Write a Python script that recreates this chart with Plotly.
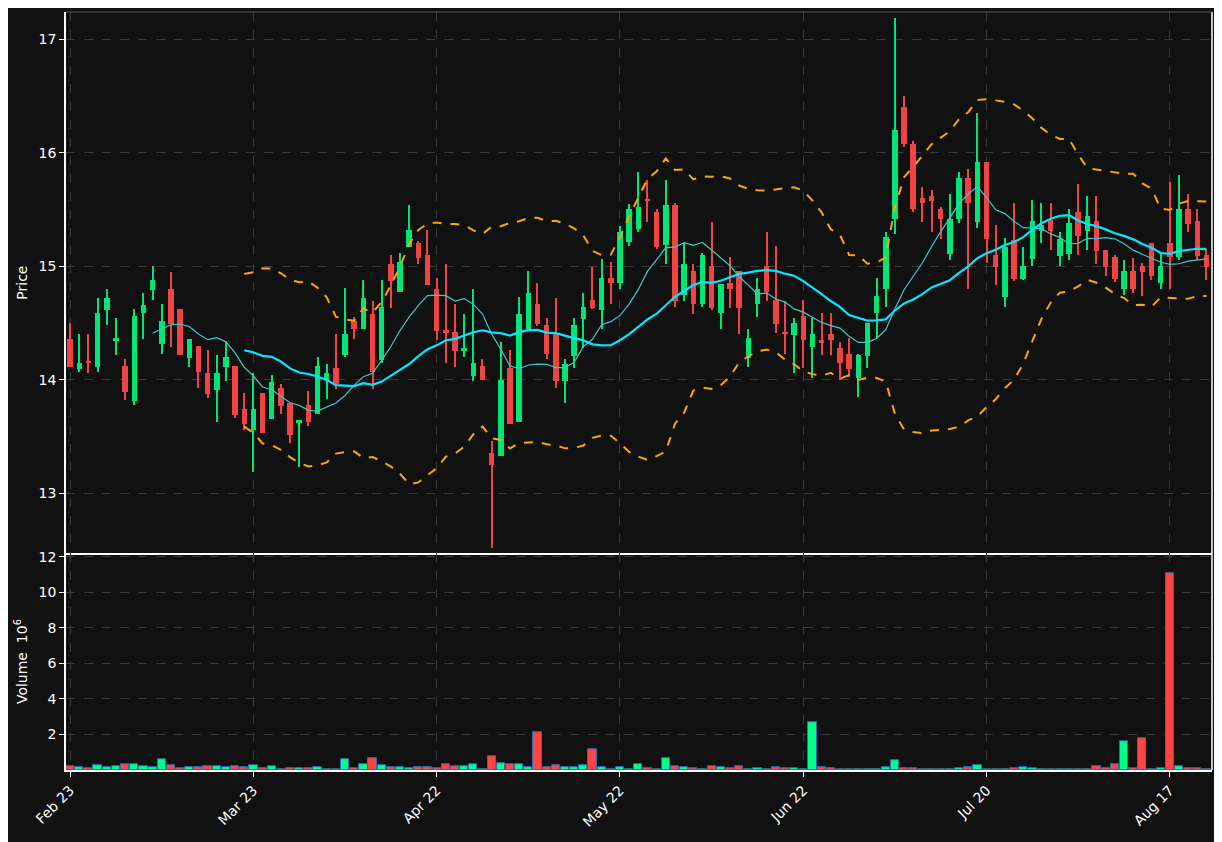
import numpy as np
import pandas as pd
import plotly.graph_objects as go
from plotly.subplots import make_subplots

opens = [14.36,14.09,14.16,14.11,14.61,14.34,14.12,13.81,14.59,14.79,
         14.31,14.80,14.62,14.19,14.30,14.06,13.91,14.11,14.12,13.74,
         13.56,13.88,13.65,13.93,13.79,13.62,13.78,13.70,14.00,14.10,
         14.22,14.52,14.45,14.58,14.17,15.02,14.77,15.17,15.20,15.10,
         14.80,14.44,14.42,14.25,14.03,14.12,13.35,13.33,14.10,13.63,
         14.45,14.67,14.48,14.41,13.99,14.21,14.53,14.70,14.61,14.90,
         14.85,15.21,15.33,15.59,15.48,15.19,15.54,14.75,14.96,14.67,
         15.00,14.59,14.85,14.96,14.19,14.67,15.00,14.70,14.42,14.39,
         14.56,14.29,14.34,14.40,14.28,14.23,14.01,14.21,14.59,14.80,
         15.42,16.40,16.08,15.60,15.62,15.50,15.11,15.42,15.78,15.39,
         15.92,15.10,14.73,15.23,14.89,15.06,15.31,15.41,15.09,15.11,
         15.48,15.31,15.40,15.14,15.08,14.80,14.96,15.00,15.20,14.85,
         15.20,15.08,15.50,15.40,15.10]
highs = [14.50,14.40,14.40,14.72,14.80,14.54,14.18,14.62,14.76,15.00,
         14.67,14.95,14.62,14.36,14.30,14.26,14.22,14.34,14.12,13.88,
         14.06,13.88,14.04,13.96,13.79,13.64,13.90,14.20,14.14,14.40,
         14.81,14.55,14.88,14.69,14.88,15.10,15.12,15.54,15.22,15.32,
         14.90,15.02,14.67,14.58,14.80,14.18,13.46,14.33,14.26,14.73,
         14.96,14.85,14.54,14.72,14.18,14.54,14.76,14.99,15.06,15.04,
         15.35,15.55,15.83,15.76,15.50,15.76,15.56,15.20,15.02,15.12,
         15.39,14.84,15.08,14.96,14.45,14.90,15.30,15.18,14.69,14.54,
         14.70,14.54,14.59,14.59,14.33,14.37,14.23,14.50,14.90,15.30,
         17.19,16.50,16.10,15.70,15.67,15.52,15.64,15.83,15.86,16.35,
         15.92,15.36,15.25,15.56,15.17,15.58,15.56,15.56,15.30,15.50,
         15.72,15.62,15.62,15.14,15.10,15.05,15.07,15.03,15.20,15.12,
         15.74,15.80,15.64,15.50,15.15]
lows = [14.11,14.07,14.06,14.07,14.48,14.22,13.82,13.78,14.36,14.70,
        14.23,14.29,14.22,14.11,13.93,13.84,13.63,13.99,13.66,13.56,
        13.19,13.53,13.65,13.70,13.44,13.23,13.59,13.70,13.83,13.92,
        14.20,14.36,14.45,13.92,14.15,14.63,14.77,15.17,15.02,14.83,
        14.35,14.15,14.11,14.20,13.99,14.00,12.52,13.33,13.61,13.63,
        14.45,14.47,14.18,13.93,13.79,14.10,14.28,14.62,14.45,14.67,
        14.80,15.18,15.30,15.39,15.15,15.02,14.64,14.69,14.58,14.64,
        14.61,14.45,14.63,14.40,14.11,14.55,14.69,14.41,14.23,14.06,
        14.10,14.01,14.22,14.22,14.00,14.02,13.85,14.10,14.37,14.64,
        15.28,16.05,15.48,15.39,15.30,15.24,15.05,15.38,14.80,15.34,
        15.03,14.83,14.64,14.87,14.88,15.00,15.20,15.14,15.00,15.05,
        15.10,15.14,15.02,14.91,14.86,14.75,14.76,14.74,14.88,14.80,
        14.80,15.05,15.30,15.05,14.88]
closes = [14.11,14.15,14.15,14.59,14.72,14.37,13.89,14.56,14.66,14.88,
          14.52,14.49,14.22,14.36,14.07,13.87,14.06,14.20,13.69,13.61,
          13.74,13.53,13.98,13.77,13.51,13.64,13.63,14.12,14.06,13.96,
          14.40,14.45,14.72,14.07,14.64,14.87,15.04,15.32,15.07,14.83,
          14.43,14.41,14.25,14.28,14.15,14.00,13.25,14.00,13.61,14.58,
          14.76,14.49,14.23,13.99,14.14,14.48,14.64,14.63,14.90,14.85,
          15.30,15.50,15.52,15.58,15.17,15.54,14.69,15.02,14.67,15.10,
          14.63,14.84,14.80,14.63,14.37,14.80,14.77,14.49,14.40,14.50,
          14.35,14.40,14.33,14.35,14.15,14.09,14.22,14.50,14.74,15.26,
          16.20,16.08,15.50,15.56,15.57,15.42,15.42,15.78,15.56,15.92,
          15.24,14.99,15.17,14.89,15.00,15.40,15.36,15.31,15.24,15.38,
          15.27,15.44,15.13,14.99,14.89,14.96,14.80,14.95,14.91,15.00,
          15.08,15.50,15.37,15.09,14.99]
volumes = [0.21,0.15,0.10,0.27,0.15,0.21,0.33,0.33,0.21,0.15,
           0.62,0.27,0.10,0.15,0.15,0.21,0.21,0.15,0.21,0.15,
           0.27,0.10,0.21,0.04,0.10,0.10,0.10,0.15,0.02,0.02,
           0.62,0.10,0.33,0.67,0.27,0.15,0.15,0.10,0.15,0.15,
           0.10,0.33,0.21,0.21,0.33,0.04,0.79,0.38,0.33,0.33,
           0.15,2.12,0.15,0.27,0.15,0.15,0.27,1.19,0.15,0.04,
           0.15,0.04,0.33,0.10,0.04,0.67,0.21,0.15,0.10,0.02,
           0.21,0.15,0.10,0.21,0.04,0.10,0.04,0.15,0.10,0.10,
           0.04,2.69,0.15,0.10,0.03,0.02,0.02,0.02,0.03,0.15,
           0.56,0.10,0.10,0.03,0.03,0.03,0.03,0.10,0.15,0.27,
           0.03,0.03,0.03,0.10,0.15,0.10,0.03,0.03,0.03,0.03,
           0.03,0.03,0.21,0.10,0.33,1.60,0.10,1.77,0.03,0.10,
           11.10,0.21,0.10,0.10,0.04]
tick_idx = [0, 20, 40, 60, 80, 100, 120]
tick_labels = ["Feb 23", "Mar 23", "Apr 22", "May 22", "Jun 22", "Jul 20", "Aug 17"]

GREEN = "#00e676"
RED = "#f04444"
VGREEN = "#00ff88"
VRED = "#ff4444"
BG = "#111111"

n = len(closes)
x = list(range(n))
o = np.array(opens); c = np.array(closes); h = np.array(highs); l = np.array(lows)
up = c >= o
cols = [GREEN if u else RED for u in up]
vcols = [VGREEN if u else VRED for u in up]
body_base = np.minimum(o, c)
body_h = np.maximum(np.abs(c - o), 0.015)

s = pd.Series(closes)
ma10 = s.rolling(10).mean()
ma20 = s.rolling(20).mean()
sd20 = s.rolling(20).std(ddof=0)
bb_up = ma20 + 2 * sd20
bb_lo = ma20 - 2 * sd20

fig = make_subplots(rows=2, cols=1, shared_xaxes=True, vertical_spacing=0,
                    row_heights=[0.714, 0.286])
fig.add_trace(go.Bar(x=x, y=h - l, base=l, width=0.12, marker=dict(color=cols, line=dict(width=0)),
                     showlegend=False, hoverinfo="skip"), row=1, col=1)
fig.add_trace(go.Bar(x=x, y=body_h, base=body_base, width=0.6, marker=dict(color=cols, line=dict(width=0)),
                     showlegend=False), row=1, col=1)
fig.add_trace(go.Scatter(x=x, y=ma10, mode="lines", line=dict(color="#3cc8c8", width=1.2), showlegend=False), row=1, col=1)
fig.add_trace(go.Scatter(x=x, y=ma20, mode="lines", line=dict(color="#00e8ff", width=2.2), showlegend=False), row=1, col=1)
for b in (bb_up, bb_lo):
    fig.add_trace(go.Scatter(x=x, y=b, mode="lines", line=dict(color="#ffa500", width=2, dash="dash"),
                             showlegend=False), row=1, col=1)
fig.add_trace(go.Bar(x=x, y=volumes, width=0.9, marker=dict(color=vcols, line=dict(color="#2a6fb0", width=1)),
                     showlegend=False), row=2, col=1)

font = dict(color="white", size=14, family="DejaVu Sans")
grid = dict(showgrid=True, gridcolor="#3a3a3a", griddash="dash", gridwidth=1, zeroline=False,
            showline=True, linecolor="white", linewidth=1.5, ticks="outside", tickcolor="white",
            ticklen=5, tickfont=font, automargin=False)
fig.update_xaxes(**grid, range=[-0.45, 124.6], tickvals=tick_idx, ticktext=tick_labels)
fig.update_xaxes(tickangle=-45, row=2, col=1)
fig.update_yaxes(**grid)
fig.update_yaxes(range=[12.47, 17.24], tickvals=[13, 14, 15, 16, 17], row=1, col=1,
                 title=dict(text="Price", font=font, standoff=8))
fig.update_yaxes(range=[0, 12.2], tickvals=[2, 4, 6, 8, 10, 12], row=2, col=1,
                 title=dict(text="Volume  10<sup>6</sup>", font=font, standoff=8))
fig.add_shape(type="line", xref="paper", yref="paper", x0=1, x1=1, y0=0, y1=1,
              line=dict(color="white", width=1.5))
fig.add_shape(type="line", xref="paper", yref="paper", x0=0, x1=1, y0=1, y1=1,
              line=dict(color="#555555", width=1))
fig.update_layout(width=1214, height=834, paper_bgcolor=BG, plot_bgcolor=BG, barmode="overlay",
                  bargap=0, margin=dict(l=58, r=10, t=4, b=72, autoexpand=False), showlegend=False)
fig.write_html("out.html")
